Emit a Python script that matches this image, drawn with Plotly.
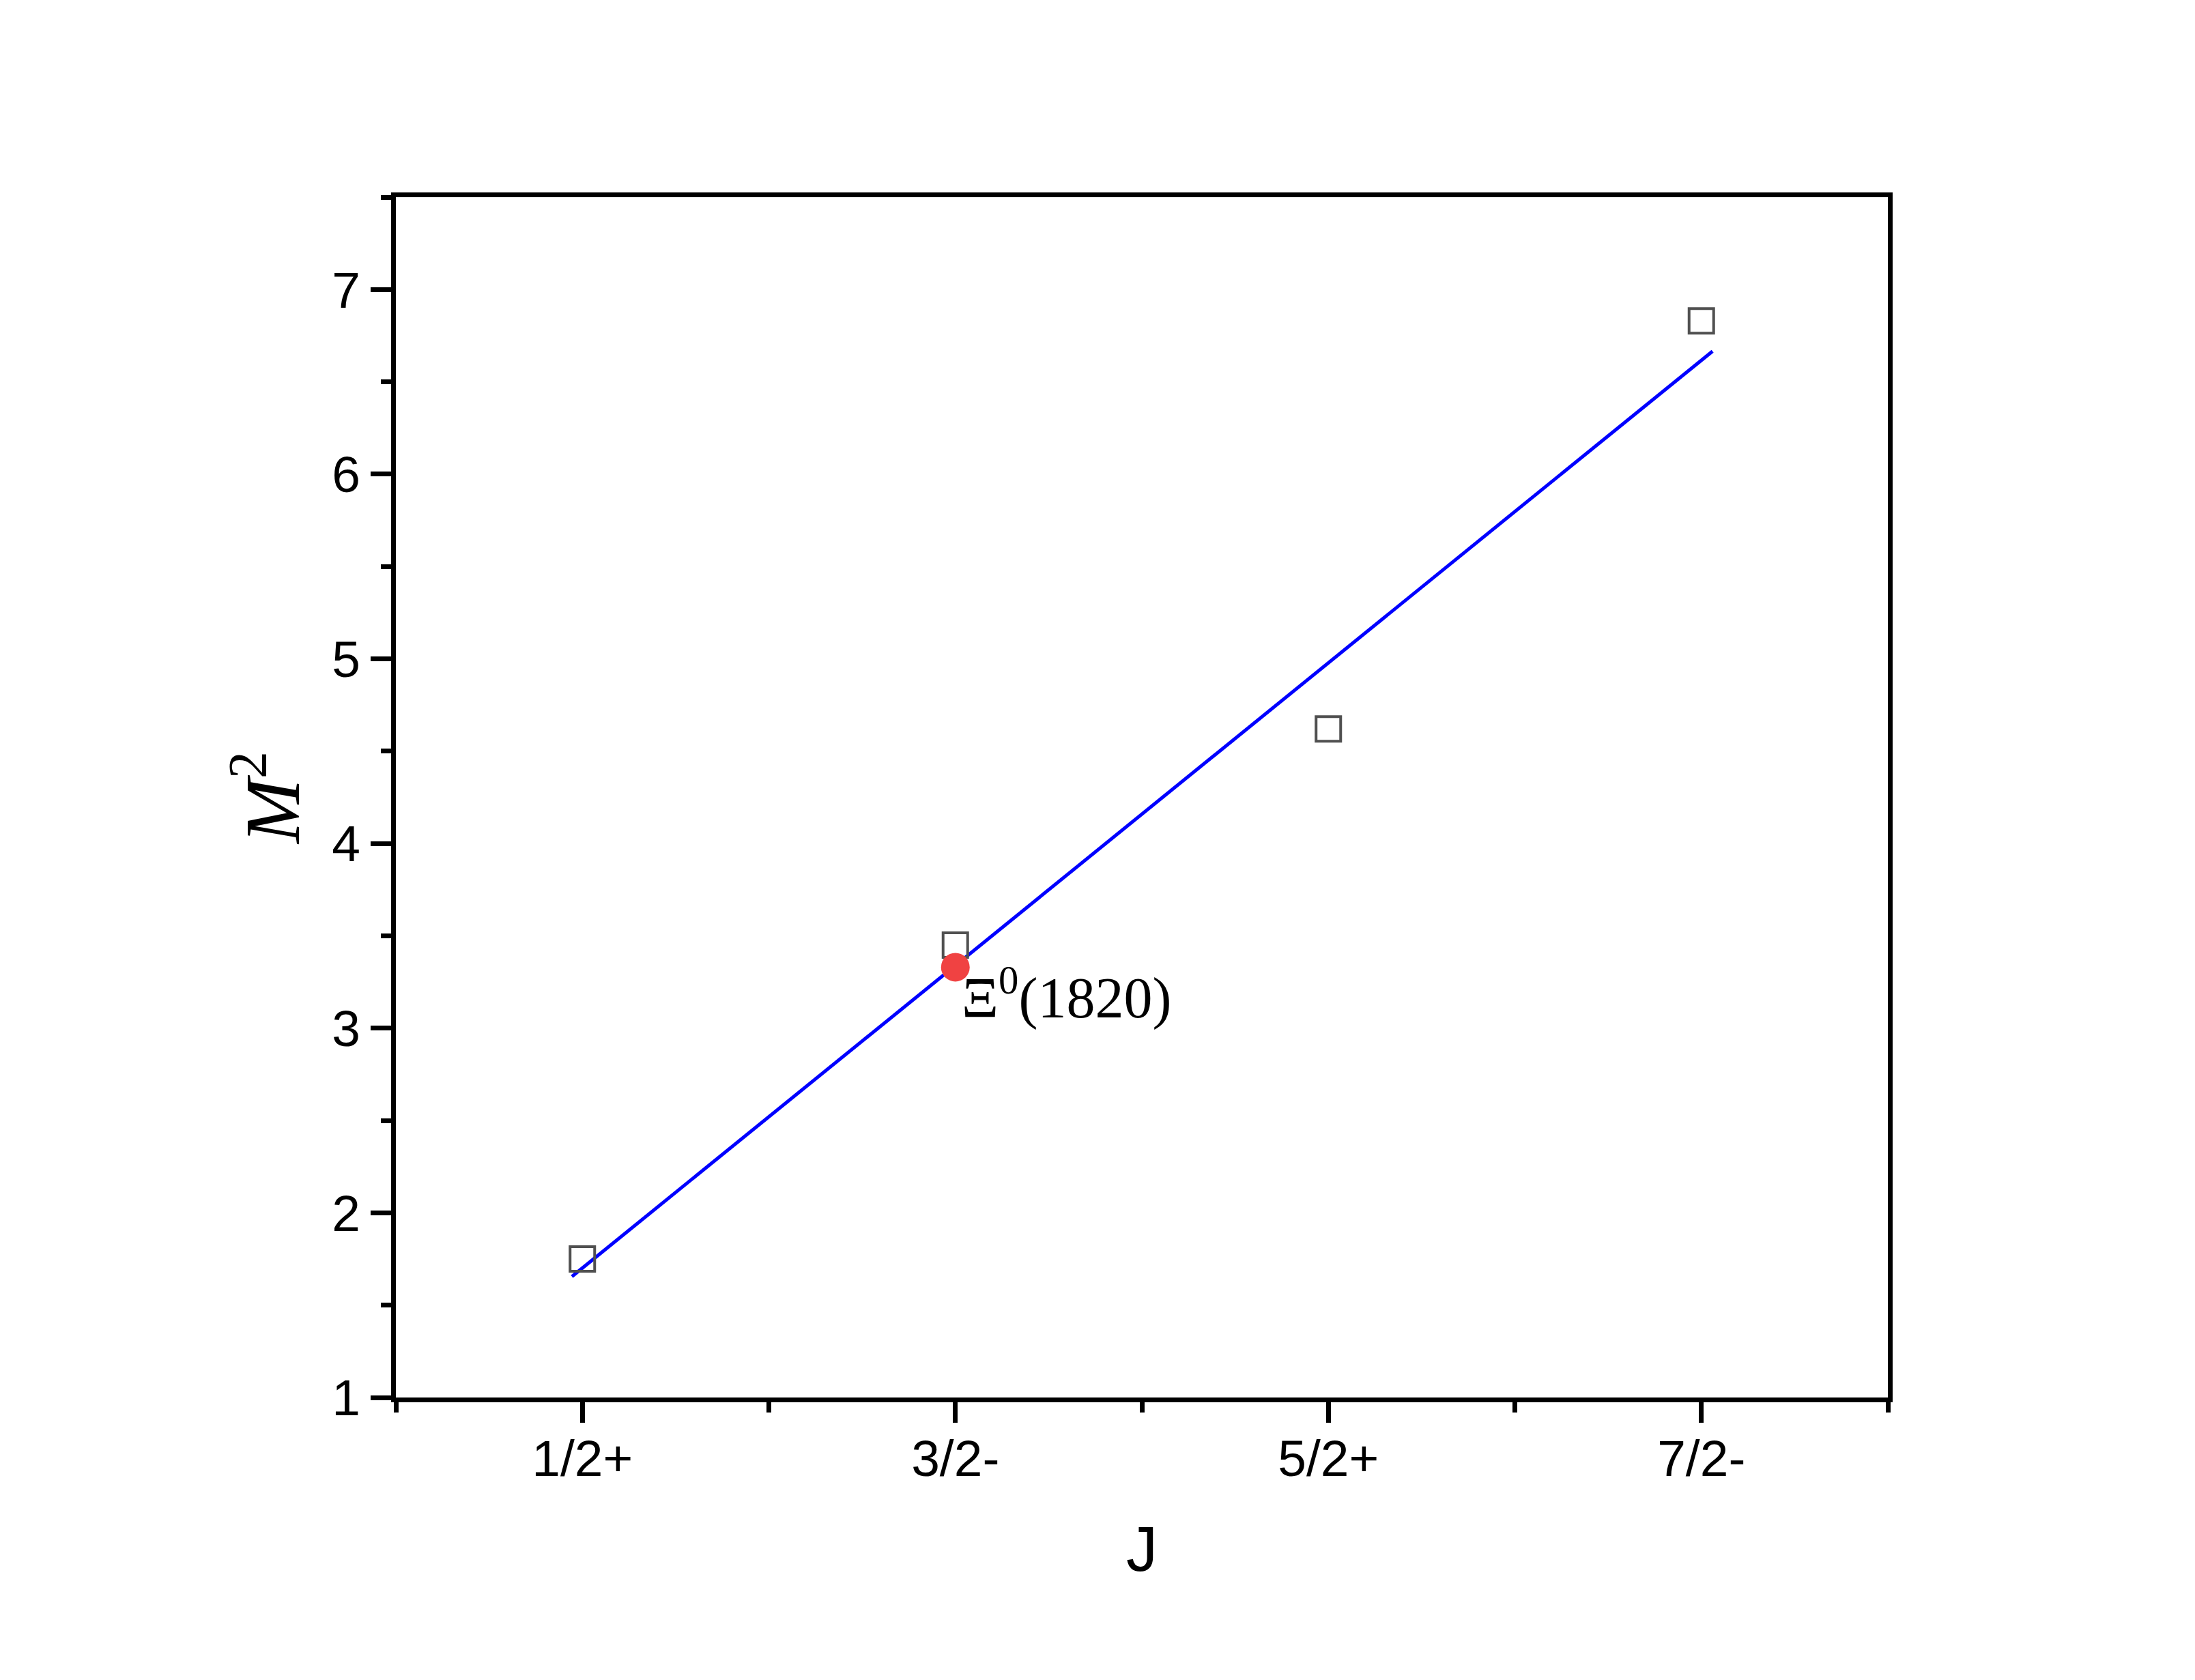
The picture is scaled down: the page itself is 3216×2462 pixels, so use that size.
import plotly.graph_objects as go

# J^P states along the trajectory
j_labels = ['1/2+', '3/2-', '5/2+', '7/2-']
j_pos = [1, 2, 3, 4]

# M^2 values (squares)
m2_values = [1.75, 3.45, 4.62, 6.83]

# highlighted state Xi0(1820)
xi_pos = [2]
xi_m2 = [3.33]

# fitted line, end points
fit_x = [0.972, 4.03]
fit_y = [1.655, 6.666]

fig = go.Figure()

fig.add_trace(go.Scatter(
    x=fit_x, y=fit_y,
    mode='lines',
    line=dict(color='#0000ff', width=5),
    showlegend=False
))

fig.add_trace(go.Scatter(
    x=j_pos, y=m2_values,
    mode='markers',
    marker=dict(symbol='square-open', size=36, color='#505050', line=dict(width=4, color='#505050')),
    showlegend=False
))

fig.add_trace(go.Scatter(
    x=xi_pos, y=xi_m2,
    mode='markers',
    marker=dict(symbol='circle', size=42, color='#f04242'),
    showlegend=False
))

fig.add_annotation(
    x=2.013, y=3.185, xanchor='left', yanchor='middle',
    text='\u039e<sup>0</sup>(1820)', showarrow=False,
    font=dict(family='Liberation Serif', size=84, color='black')
)

axis_common = dict(
    showline=True, linewidth=7, linecolor='black', mirror=True,
    ticks='outside', ticklen=30, tickwidth=7, tickcolor='black',
    showgrid=False, zeroline=False,
    tickfont=dict(family='Liberation Sans', size=75, color='black'),
)

# page body has an 8px margin, so the figure is a bit smaller and shifted
fig.update_layout(
    width=3208, height=2454,
    margin=dict(l=572, r=450, t=281, b=414),
    plot_bgcolor='white',
    paper_bgcolor='white',
    xaxis=dict(
        range=[0.5, 4.5],
        tickmode='array', tickvals=j_pos, ticktext=j_labels,
        ticklabelstandoff=-12,
        minor=dict(tickvals=[0.5, 1.5, 2.5, 3.5, 4.5], ticks='outside', ticklen=15, tickwidth=7, tickcolor='black'),
        title=dict(text='J', font=dict(family='Liberation Sans', size=92, color='black'), standoff=62),
        **axis_common
    ),
    yaxis=dict(
        range=[1, 7.5],
        tickmode='linear', tick0=1, dtick=1,
        minor=dict(tickvals=[1.5, 2.5, 3.5, 4.5, 5.5, 6.5, 7.5], ticks='outside', ticklen=15, tickwidth=7, tickcolor='black'),
        title=dict(text='<i>M</i><sup>2</sup>', font=dict(family='Liberation Serif', size=114, color='black'), standoff=12),
        **axis_common
    ),
)

fig.write_html("out.html")
